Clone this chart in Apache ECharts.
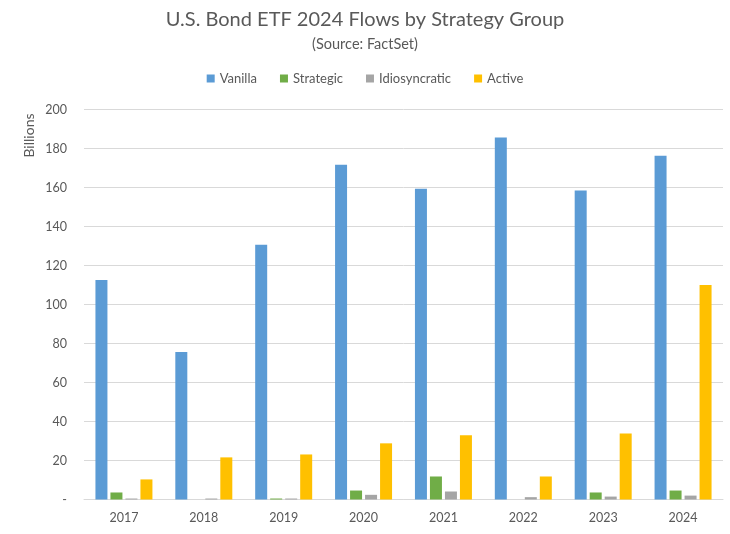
<!DOCTYPE html>
<html>
<head>
<meta charset="utf-8">
<script src="https://cdn.jsdelivr.net/npm/echarts@6/dist/echarts.min.js"></script>
<style>
  html, body { margin: 0; padding: 0; background: #fff; }
  #chart { width: 730px; height: 534px; }
</style>
</head>
<body>
<div id="chart"></div>
<script>
const years = ['2017', '2018', '2019', '2020', '2021', '2022', '2023', '2024']
const vanilla = [112.6, 75.6, 130.6, 171.7, 159.4, 185.6, 158.4, 176.3]
const strategic = [3.6, 0, 0.5, 4.6, 11.8, 0, 3.6, 4.6]
const idiosyncratic = [0.5, 0.5, 0.5, 2.4, 4.1, 1.2, 1.5, 2.0]
const active = [10.3, 21.6, 23.1, 28.8, 32.9, 11.8, 33.9, 110]

const font = 'Lato, "Open Sans", sans-serif'
const textColor = '#595959'

const chart = echarts.init(document.getElementById('chart'))

const makeSeries = (name, data, color) => ({
    name,
    type: 'bar',
    data,
    barWidth: 12,
    barGap: '25%',
    itemStyle: { color },
})

chart.setOption({
    animation: false,
    textStyle: { fontFamily: font },
    title: {
        text: 'U.S. Bond ETF 2024 Flows by Strategy Group',
        subtext: '(Source: FactSet)',
        left: 'center',
        top: 5,
        itemGap: 7,
        textStyle: { fontFamily: font, fontSize: 20, fontWeight: 'normal', color: textColor },
        subtextStyle: { fontFamily: font, fontSize: 14.5, color: textColor },
    },
    legend: {
        top: 67,
        left: 'center',
        itemWidth: 8,
        itemHeight: 8,
        itemGap: 23,
        icon: 'rect',
        textStyle: { fontFamily: font, fontSize: 13, color: textColor },
        data: ['Vanilla', 'Strategic', 'Idiosyncratic', 'Active'],
    },
    grid: {
        left: 84,
        right: 7,
        top: 109.5,
        bottom: 34.5,
        containLabel: false,
    },
    xAxis: {
        type: 'category',
        data: years,
        axisTick: { show: false },
        axisLine: { lineStyle: { color: '#d9d9d9', width: 1 } },
        axisLabel: { color: textColor, fontSize: 12.5, margin: 12, fontFamily: font },
    },
    yAxis: {
        type: 'value',
        min: 0,
        max: 200,
        interval: 20,
        name: 'Billions',
        nameLocation: 'end',
        nameRotate: 90,
        nameGap: -4,
        nameTextStyle: { color: textColor, fontSize: 14, fontFamily: font, align: 'right', verticalAlign: 'bottom', padding: [0, 0, 48, 0] },
        axisLine: { show: false },
        axisTick: { show: false },
        axisLabel: {
            color: textColor,
            fontSize: 12.5,
            margin: 17,
            fontFamily: font,
            formatter: v => (v === 0 ? '-' : v),
        },
        splitLine: { lineStyle: { color: '#d9d9d9', width: 1 } },
    },
    series: [
        makeSeries('Vanilla', vanilla, '#5b9bd5'),
        makeSeries('Strategic', strategic, '#70ad47'),
        makeSeries('Idiosyncratic', idiosyncratic, '#a5a5a5'),
        makeSeries('Active', active, '#ffc000'),
    ],
})
</script>
</body>
</html>
